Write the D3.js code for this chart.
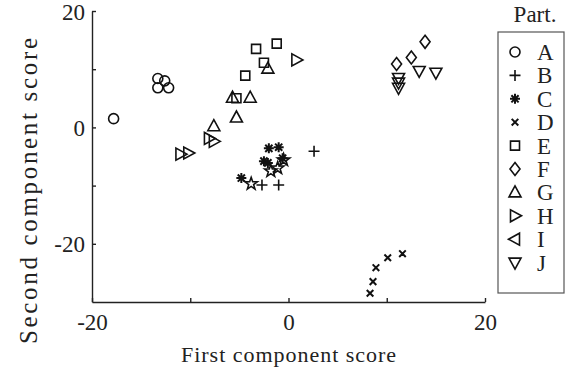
<!DOCTYPE html>
<html><head><meta charset="utf-8">
<script src="https://cdn.jsdelivr.net/npm/d3@7"></script>
<style>body{margin:0;background:#fff}svg{display:block}text{font-family:"Liberation Serif","Times New Roman",serif;fill:#222}</style>
</head><body>
<svg id="c" width="573" height="374"></svg>
<script>
// ---- data ----
const participants = ["A","B","C","D","E","F","G","H","I","J"];
const symbolNames = ["circle","plus","asterisk","times","square","diamond","triUp","triRight","triLeft","triDown"];
const ptsA = [[-13.3,8.4],[-12.6,8.0],[-13.3,6.8],[-12.2,6.8],[-17.8,1.5]];
const ptsB = [[2.6,-4.1],[-2.7,-9.9],[-1.0,-9.9]];
const ptsC = [[-4.8,-8.7],[-2.0,-3.6],[-1.0,-3.4],[-2.5,-5.8],[-2.1,-6.1],[-0.6,-5.3]];
const ptsD = [[8.3,-28.5],[8.6,-26.5],[8.9,-24.1],[10.1,-22.4],[11.6,-21.7]];
const ptsE = [[-3.3,13.5],[-1.2,14.4],[-2.5,11.1],[-4.4,8.9],[-5.3,5.0]];
const ptsF = [[13.9,14.7],[11.0,10.9],[12.5,12.0]];
const ptsG = [[-5.7,5.1],[-3.9,5.1],[-5.3,1.7],[-7.6,0.2],[-2.1,10.1]];
const ptsH = [[0.8,11.6],[-8.1,-1.9],[-7.6,-2.4],[-11.0,-4.6],[-10.2,-4.4]];
const ptsI = [];
const ptsJ = [[13.3,9.7],[15.0,9.4],[11.2,8.5],[11.2,7.7],[11.2,6.8]];
const ptsExtra = [[-3.8,-9.7],[-1.8,-7.5],[-1.1,-7.0],[-0.5,-5.6]]; // pentagram markers (not in legend)
const allSeries = [ptsA,ptsB,ptsC,ptsD,ptsE,ptsF,ptsG,ptsH,ptsI,ptsJ];
const xTicks = [-20,-10,0,10,20];
const yTicks = [-20,-10,0,10,20];
const xTickLabels = {"-20":"-20","0":"0","20":"20"};
const yTickLabels = {"-20":"-20","0":"0","20":"20"};
const xTitle = "First component score";
const yTitle = "Second component score";
const legendTitle = "Part.";

// ---- marker paths ----
function markerPath(name){
  switch(name){
    case "circle": return "M5,0A5,5 0 1,1 -5,0A5,5 0 1,1 5,0Z";
    case "plus": return "M-5.5,0H5.5M0,-5.5V5.5";
    case "asterisk": return "M-5,0H5M0,-5V5M-3.6,-3.6L3.6,3.6M-3.6,3.6L3.6,-3.6";
    case "times": return "M-3.3,-3.3L3.3,3.3M-3.3,3.3L3.3,-3.3";
    case "square": return "M-4.5,-4.5H4.5V4.5H-4.5Z";
    case "diamond": return "M0,-6.5L5,0L0,6.5L-5,0Z";
    case "triUp": return "M0,-6.5L6,4.5L-6,4.5Z";
    case "triDown": return "M0,6.5L6,-4.5L-6,-4.5Z";
    case "triRight": return "M6.5,0L-4.5,-6L-4.5,6Z";
    case "triLeft": return "M-6.5,0L4.5,-6L4.5,6Z";
    case "star": {
      let p=[];for(let i=0;i<10;i++){const r=i%2?2.6:6.5;const a=-Math.PI/2+i*Math.PI/5;p.push([r*Math.cos(a),r*Math.sin(a)]);}
      return "M"+p.map(d=>d[0].toFixed(2)+","+d[1].toFixed(2)).join("L")+"Z";
    }
  }
}

const svg = d3.select("#c");
const x = d3.scaleLinear().domain([-20,20]).range([92,485]);
const y = d3.scaleLinear().domain([-30,20]).range([302,11]);

// axes
const axisColor="#222";
const gx = svg.append("g").attr("transform","translate(0,302)")
  .call(d3.axisBottom(x).tickValues(xTicks).tickSize(-4).tickSizeOuter(0).tickFormat(d=>xTickLabels[d]||""));
const gy = svg.append("g").attr("transform","translate(92,0)")
  .call(d3.axisLeft(y).tickValues(yTicks).tickSize(-4).tickSizeOuter(0).tickFormat(d=>yTickLabels[d]||""));
[gx,gy].forEach(g=>{
  g.select(".domain").attr("stroke",axisColor).attr("stroke-width",1.4);
  g.selectAll(".tick line").attr("stroke",axisColor).attr("stroke-width",1.4);
  g.selectAll(".tick text").attr("font-size",23).attr("font-family","Liberation Serif").attr("fill","#222");
});
gx.selectAll(".tick text").attr("dy","0.95em").attr("y",6);
gy.selectAll(".tick text").attr("x",-7).attr("dy","0.35em");

// titles
svg.append("text").attr("x",(x(-20)+x(20))/2).attr("y",362).attr("text-anchor","middle")
  .attr("font-size",22).attr("textLength",215).attr("lengthAdjust","spacing").text(xTitle);
svg.append("text").attr("transform","translate(37,"+191+") rotate(-90)").attr("text-anchor","middle")
  .attr("font-size",25).attr("textLength",306).attr("lengthAdjust","spacing").text(yTitle);

// points
const plot = svg.append("g");
allSeries.forEach((pts,i)=>{
  plot.selectAll(null).data(pts).join("path")
    .attr("d",markerPath(symbolNames[i]))
    .attr("transform",d=>`translate(${x(d[0])},${y(d[1])})`)
    .attr("fill","none").attr("stroke","#111").attr("stroke-width",symbolNames[i]==="times"||symbolNames[i]==="asterisk"?2:1.6);
});
plot.selectAll(null).data(ptsExtra).join("path")
  .attr("d",markerPath("star"))
  .attr("transform",d=>`translate(${x(d[0])},${y(d[1])})`)
  .attr("fill","none").attr("stroke","#111").attr("stroke-width",1.6);

// legend
svg.append("text").attr("x",535).attr("y",22).attr("text-anchor","middle").attr("font-size",23).text(legendTitle);
svg.append("rect").attr("x",498).attr("y",32).attr("width",66).attr("height",261)
  .attr("fill","none").attr("stroke","#555").attr("stroke-width",1.2);
const lg = svg.append("g");
participants.forEach((p,i)=>{
  const yy = 52 + i*23.4;
  lg.append("path").attr("d",markerPath(symbolNames[i])).attr("transform",`translate(515,${yy})`)
    .attr("fill","none").attr("stroke","#111").attr("stroke-width",symbolNames[i]==="times"||symbolNames[i]==="asterisk"?2:1.6);
  lg.append("text").attr("x",537).attr("y",yy).attr("dy","0.35em").attr("font-size",23).text(p);
});
</script>
</body></html>
